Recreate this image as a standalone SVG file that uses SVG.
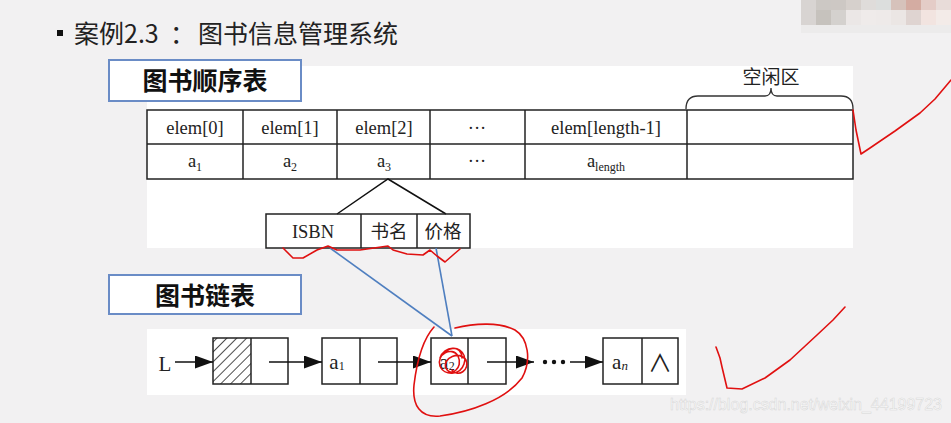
<svg xmlns="http://www.w3.org/2000/svg" width="951" height="423" viewBox="0 0 951 423">
<defs>
<style>
.cn{font-family:"Noto Sans CJK SC","Noto Sans",sans-serif;}
.ser{font-family:"Liberation Serif","Noto Sans CJK SC",serif;fill:#222;}
.cell{fill:none;stroke:#222;stroke-width:1.5;}
.ln{fill:none;stroke:#111;stroke-width:1.5;}
.red{fill:none;stroke:#e01010;stroke-width:1.6;stroke-linecap:round;stroke-linejoin:round;}
.blue{fill:none;stroke:#4f7fc0;stroke-width:1.6;}
.tbox{fill:#fff;stroke:#6a8cc6;stroke-width:2;}
</style>
<marker id="ah" markerWidth="19" markerHeight="13" refX="18" refY="6.5" orient="auto" markerUnits="userSpaceOnUse">
<path d="M0,0 L18,6.5 L0,13 Z" fill="#111"/>
</marker>
<pattern id="hatch" width="7" height="7" patternUnits="userSpaceOnUse" patternTransform="rotate(45)">
<line x1="0" y1="0" x2="0" y2="7" stroke="#111" stroke-width="1.5"/>
</pattern>
</defs>
<rect width="951" height="423" fill="#f2f1f2"/>
<!-- mosaic -->
<g id="mosaic">
<rect x="801" y="0" width="15" height="10" fill="#d8d4d2"/><rect x="816" y="0" width="15" height="10" fill="#ccc8c4"/><rect x="831" y="0" width="15" height="10" fill="#cdc8c4"/><rect x="846" y="0" width="15" height="10" fill="#d6d0cc"/><rect x="861" y="0" width="15" height="10" fill="#dfdcda"/><rect x="876" y="0" width="15" height="10" fill="#dcdedd"/><rect x="891" y="0" width="15" height="10" fill="#d6c2bb"/><rect x="906" y="0" width="15" height="10" fill="#d4aca2"/><rect x="921" y="0" width="15" height="10" fill="#e4ccc7"/><rect x="936" y="0" width="15" height="10" fill="#e8dcd9"/>
<rect x="801" y="10" width="15" height="15" fill="#d8d4d2"/><rect x="816" y="10" width="15" height="15" fill="#c6c2bd"/><rect x="831" y="10" width="15" height="15" fill="#d4d1ce"/><rect x="846" y="10" width="15" height="15" fill="#ebe7e6"/><rect x="861" y="10" width="15" height="15" fill="#efebea"/><rect x="876" y="10" width="15" height="15" fill="#eeeae9"/><rect x="891" y="10" width="15" height="15" fill="#ebe6e4"/><rect x="906" y="10" width="15" height="15" fill="#dfd4d1"/><rect x="921" y="10" width="15" height="15" fill="#f2e4e0"/><rect x="936" y="10" width="15" height="15" fill="#f3ebe8"/>
<rect x="801" y="25" width="150" height="8" fill="#ecebeb"/>
</g>
<!-- header -->
<g id="header">
<rect x="57" y="30" width="6" height="6" fill="#111"/>
<text class="cn" x="74" y="43" font-size="25" fill="#222">案例2.3<tspan x="170">：</tspan><tspan x="198">图书信息管理系统</tspan></text>
</g>
<!-- white panels -->
<rect x="147" y="66" width="706" height="182" fill="#fff"/>
<rect x="147" y="329" width="539" height="66" fill="#fff"/>
<g id="title-seq">
<rect class="tbox" x="109" y="60" width="192" height="41"/>
<text class="cn" x="205" y="90" font-size="25" font-weight="bold" text-anchor="middle" fill="#111">图书顺序表</text>
</g>
<g id="title-link">
<rect class="tbox" x="109" y="275" width="192" height="39"/>
<text class="cn" x="205" y="305" font-size="25" font-weight="bold" text-anchor="middle" fill="#111">图书链表</text>
</g>
<!-- free area brace -->
<g id="free-area">
<path d="M686,109 Q686,96 698,96 L765,96 Q771,96 771,88 Q771,96 777,96 L841,96 Q853,96 853,109" fill="none" stroke="#333" stroke-width="1.3"/>
<text class="ser" x="771" y="84" font-size="19" text-anchor="middle">空闲区</text>
</g>
<!-- sequence table -->
<g id="seq-table">
<rect class="cell" x="147" y="110" width="706" height="69"/>
<line class="cell" x1="147" y1="144" x2="853" y2="144"/>
<line class="cell" x1="243" y1="110" x2="243" y2="179"/>
<line class="cell" x1="337" y1="110" x2="337" y2="179"/>
<line class="cell" x1="430" y1="110" x2="430" y2="179"/>
<line class="cell" x1="525" y1="110" x2="525" y2="179"/>
<line class="cell" x1="687" y1="110" x2="687" y2="179"/>
<g font-size="18.5" text-anchor="middle">
<text class="ser" x="195" y="134">elem[0]</text>
<text class="ser" x="290" y="134">elem[1]</text>
<text class="ser" x="384" y="134">elem[2]</text>
<text class="ser" x="477" y="134">···</text>
<text class="ser" x="606" y="134">elem[length-1]</text>
<text class="ser" x="195" y="167">a<tspan font-size="12" dy="4">1</tspan></text>
<text class="ser" x="290" y="167">a<tspan font-size="12" dy="4">2</tspan></text>
<text class="ser" x="384" y="167">a<tspan font-size="12" dy="4">3</tspan></text>
<text class="ser" x="477" y="167">···</text>
<text class="ser" x="606" y="167">a<tspan font-size="12" dy="4">length</tspan></text>
</g>
</g>
<!-- record structure -->
<g id="record">
<path class="ln" d="M337,214 L388,179 L446,214"/>
<rect class="cell" x="266" y="214" width="204" height="34"/>
<line class="cell" x1="361" y1="214" x2="361" y2="248"/>
<line class="cell" x1="417" y1="214" x2="417" y2="248"/>
<text class="ser" x="313" y="238" font-size="18.5" text-anchor="middle">ISBN</text>
<text class="ser" x="389" y="238" font-size="18.5" text-anchor="middle">书名</text>
<text class="ser" x="443" y="238" font-size="18.5" text-anchor="middle">价格</text>
</g>
<!-- linked list nodes -->
<g id="L">
<text class="ser" x="165" y="371" font-size="21" text-anchor="middle">L</text>
</g>
<g id="node-head">
<rect x="213" y="338" width="38" height="46" fill="url(#hatch)"/>
<rect class="cell" x="213" y="338" width="75" height="46"/>
<line class="cell" x1="251" y1="338" x2="251" y2="384"/>
</g>
<g id="node-a1">
<rect class="cell" x="322" y="338" width="75" height="46"/>
<line class="cell" x1="360" y1="338" x2="360" y2="384"/>
<text class="ser" x="337" y="369" font-size="21" text-anchor="middle">a<tspan font-size="12" dy="1">1</tspan></text>
</g>
<g id="node-a2">
<rect class="cell" x="431" y="338" width="75" height="46"/>
<line class="cell" x1="468" y1="338" x2="468" y2="384"/>
<text class="ser" x="447" y="369" font-size="21" text-anchor="middle">a<tspan font-size="12" dy="1">2</tspan></text>
</g>
<g id="node-an">
<rect class="cell" x="603" y="338" width="75" height="46"/>
<line class="cell" x1="642" y1="338" x2="642" y2="384"/>
<text class="ser" x="620" y="369" font-size="21" text-anchor="middle">a<tspan font-size="13" font-style="italic" dy="1">n</tspan></text>
<text class="ser" x="660" y="372" font-size="24" text-anchor="middle">∧</text>
</g>
<!-- connectors -->
<g id="connectors">
<line class="ln" x1="175" y1="362" x2="213" y2="362" marker-end="url(#ah)"/>
<line class="ln" x1="269" y1="362" x2="322" y2="362" marker-end="url(#ah)"/>
<line class="ln" x1="378" y1="362" x2="431" y2="362" marker-end="url(#ah)"/>
<line class="ln" x1="487" y1="362" x2="534" y2="362" marker-end="url(#ah)"/>
<circle cx="545" cy="362" r="2.2" fill="#111"/>
<circle cx="554" cy="362" r="2.2" fill="#111"/>
<circle cx="563" cy="362" r="2.2" fill="#111"/>
<line class="ln" x1="570" y1="362" x2="603" y2="362" marker-end="url(#ah)"/>
<line class="blue" x1="330" y1="248" x2="452" y2="336"/>
<line class="blue" x1="436" y1="248" x2="452" y2="336"/>
</g>
<!-- red annotations -->
<g id="annotations">
<path class="red" d="M853,110 L856,130 L861,154 L870,148 L895,131 L920,113 L935,99 L951,80"/>
<path class="red" d="M716,347 L720,358 L722,367 L727,388 L742,389 L765,378 L790,360 L817,335 L833,320 L845,307"/>
<path class="red" d="M283,248 L293,258 L303,258 L317,250 L328,246 L337,250 L360,250 L388,246 L393,250 L407,254 L423,255 L430,250 L437,256 L445,262 L453,255 L460,249"/>
<path class="red" d="M434,327 C424,338 417,360 414,385 C412,405 420,418 440,416 C470,412 505,400 522,378 C532,360 528,338 515,330 C500,322 475,323 455,328"/>
<path class="red" d="M445,352 C455,343 468,352 464,364 C460,376 444,376 440,366 C436,354 452,346 458,356 C464,368 450,378 446,368 C442,358 460,350 466,360 C470,370 458,378 452,370 M440,358 C444,346 462,344 462,358"/>
</g>
<!-- watermark -->
<text x="670" y="410" font-family="Liberation Sans, Arial, sans-serif" font-size="16" textLength="272" fill="#fbfbfb" stroke="#d6d6d6" stroke-width="0.5">https://blog.csdn.net/weixin_44199723</text>
</svg>
